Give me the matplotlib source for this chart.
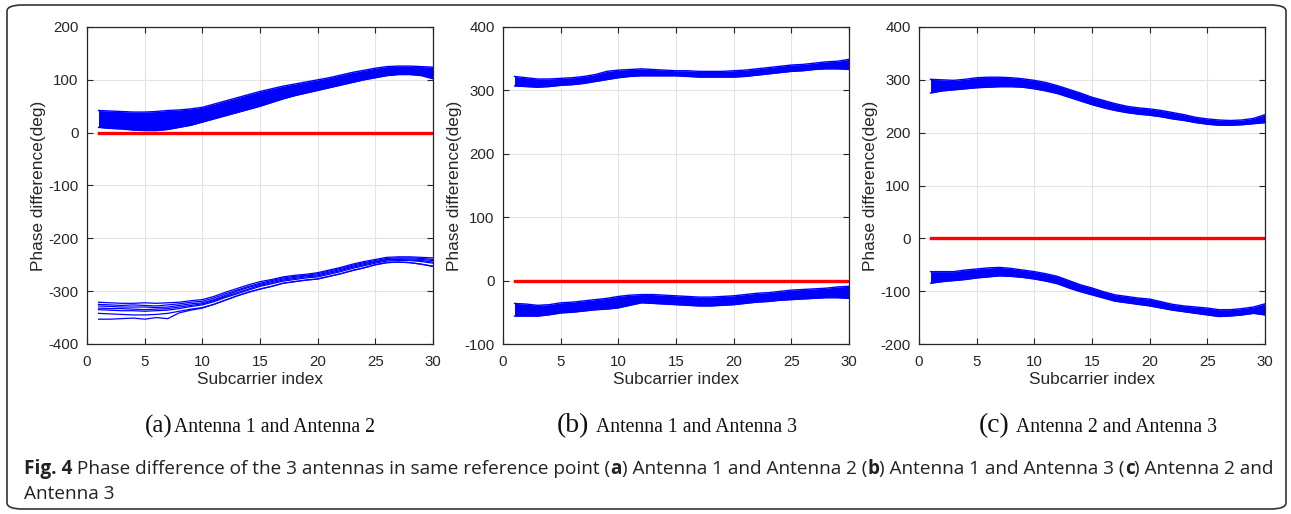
import matplotlib
matplotlib.use('Agg')
import matplotlib.pyplot as plt
from matplotlib.patches import FancyBboxPatch

# subcarrier index
sub = list(range(1, 31))

# (a) Antenna 1 and Antenna 2 - upper bundle envelope
a_up_hi = [42, 41, 40, 39, 39, 40, 42, 43, 45, 48, 54, 60, 66, 72, 78, 83, 88, 92, 96, 100,
           104, 109, 114, 118, 122, 125, 126, 126, 125, 124]
a_up_lo = [10, 8, 7, 5, 4, 4, 6, 10, 14, 20, 26, 32, 38, 44, 50, 57, 64, 70, 75, 80,
           85, 90, 95, 100, 104, 108, 110, 110, 108, 102]
# (a) lower (wrapped) bundle, a few separate traces
a_low_lines = [
    [-321, -322, -323, -323, -322, -323, -322, -321, -318, -316, -310, -302, -295, -288, -282,
     -278, -273, -270, -268, -265, -260, -255, -249, -244, -240, -236, -235, -235, -236, -237],
    [-325, -326, -327, -326, -327, -328, -326, -324, -321, -319, -313, -305, -298, -291, -285,
     -280, -275, -272, -270, -267, -262, -257, -251, -246, -242, -238, -237, -237, -238, -240],
    [-328, -329, -330, -330, -330, -331, -330, -327, -324, -322, -316, -308, -300, -293, -287,
     -282, -277, -274, -271, -269, -264, -259, -253, -248, -244, -240, -239, -239, -240, -242],
    [-332, -333, -333, -334, -335, -334, -333, -330, -327, -324, -318, -310, -303, -296, -289,
     -284, -279, -276, -273, -271, -266, -261, -255, -250, -245, -241, -240, -241, -242, -245],
    [-335, -336, -337, -337, -338, -337, -336, -333, -329, -326, -320, -312, -305, -298, -291,
     -286, -281, -278, -275, -273, -268, -263, -257, -252, -247, -243, -242, -242, -244, -247],
    [-342, -343, -344, -345, -345, -344, -342, -338, -334, -331, -325, -317, -309, -302, -296,
     -291, -285, -282, -279, -277, -272, -267, -261, -256, -250, -246, -245, -246, -249, -253],
    [-353, -353, -352, -351, -353, -350, -352, -341, -336, -332, -325, -317, -309, -302, -296,
     -291, -285, -282, -279, -277, -272, -267, -261, -256, -250, -246, -245, -246, -249, -253],
]

# (b) Antenna 1 and Antenna 3
b_up_hi = [322, 320, 318, 318, 319, 320, 322, 325, 330, 332, 333, 334, 333, 332, 331,
           331, 330, 330, 330, 331, 332, 334, 336, 338, 340, 341, 343, 345, 346, 349]
b_up_lo = [307, 306, 305, 306, 308, 309, 311, 314, 317, 320, 322, 323, 323, 323, 323,
           322, 321, 321, 321, 321, 322, 324, 326, 328, 330, 331, 333, 334, 334, 333]
b_low_hi = [-36, -37, -39, -38, -35, -34, -32, -30, -28, -25, -23, -22, -22, -23, -24,
            -25, -26, -26, -25, -24, -22, -20, -19, -17, -15, -14, -13, -12, -10, -9]
b_low_lo = [-56, -56, -56, -54, -51, -50, -48, -46, -45, -43, -39, -35, -36, -37, -38,
            -39, -40, -40, -39, -38, -36, -34, -33, -31, -30, -29, -28, -27, -27, -28]

# (c) Antenna 2 and Antenna 3
c_up_hi = [301, 300, 299, 301, 304, 305, 305, 304, 302, 299, 295, 289, 282, 275, 267,
           261, 255, 250, 247, 245, 242, 238, 234, 229, 226, 224, 223, 224, 227, 234]
c_up_lo = [275, 279, 281, 283, 285, 286, 287, 287, 286, 283, 279, 274, 267, 260, 253,
           247, 242, 238, 235, 233, 230, 226, 223, 219, 216, 214, 214, 215, 217, 219]
c_low_hi = [-63, -63, -63, -60, -58, -56, -55, -57, -60, -63, -67, -72, -80, -88, -94,
            -101, -107, -110, -113, -115, -120, -125, -128, -130, -132, -135, -135, -133, -130, -124]
c_low_lo = [-85, -82, -80, -78, -75, -73, -71, -72, -74, -77, -81, -86, -94, -101, -107,
            -113, -119, -122, -125, -128, -132, -136, -139, -142, -145, -148, -147, -145, -142, -145]

ref_line = [0] * 30

panels = [
    dict(bands=[(a_up_hi, a_up_lo)], lines=a_low_lines, ylim=(-400, 200),
         yticks=[-400, -300, -200, -100, 0, 100, 200],
         tag='(a)', tag_x=145, tag_size=18, cap='Antenna 1 and Antenna 2', cap_x=174),
    dict(bands=[(b_up_hi, b_up_lo), (b_low_hi, b_low_lo)], lines=[], ylim=(-100, 400),
         yticks=[-100, 0, 100, 200, 300, 400],
         tag='(b)', tag_x=557, tag_size=20, cap='Antenna 1 and Antenna 3', cap_x=596),
    dict(bands=[(c_up_hi, c_up_lo), (c_low_hi, c_low_lo)], lines=[], ylim=(-200, 400),
         yticks=[-200, -100, 0, 100, 200, 300, 400],
         tag='(c)', tag_x=979, tag_size=20, cap='Antenna 2 and Antenna 3', cap_x=1016),
]

W, H = 1291, 514
fig = plt.figure(figsize=(W / 100, H / 100), dpi=100)
plt.rcParams['font.family'] = ['Liberation Sans', 'DejaVu Sans']
plt.rcParams['axes.unicode_minus'] = False

# rounded frame round the whole figure
frame = FancyBboxPatch((7 / W, 5 / H), 1279 / W, 504 / H, transform=fig.transFigure,
                       boxstyle='round,pad=0,rounding_size=0.012', fill=False,
                       edgecolor='#333333', linewidth=1.2)
fig.patches.append(frame)

lefts = [87, 503, 919]
blue = '#0000ff'
for left, p in zip(lefts, panels):
    ax = fig.add_axes([left / W, 1 - 344 / H, 346 / W, 317 / H])
    for hi, lo in p['bands']:
        ax.fill_between(sub, lo, hi, color=blue, linewidth=0)
        ax.plot(sub, hi, color=blue, linewidth=1.0)
        ax.plot(sub, lo, color=blue, linewidth=1.0)
    for ln in p['lines']:
        ax.plot(sub, ln, color=blue, linewidth=0.9)
    ax.plot(sub, ref_line, color='#ff0000', linewidth=2.4)

    ax.set_xlim(0, 30)
    ax.set_ylim(*p['ylim'])
    ax.set_xticks([0, 5, 10, 15, 20, 25, 30])
    ax.set_yticks(p['yticks'])
    ax.grid(True, color='#e3e3e3', linewidth=0.8)
    ax.set_axisbelow(True)
    ax.tick_params(direction='in', top=True, right=True, labelsize=10.8,
                   colors='#262626', length=4, width=0.8)
    ax.tick_params(axis='x', pad=8)
    ax.tick_params(axis='y', pad=6)
    for s in ax.spines.values():
        s.set_color('#262626')
        s.set_linewidth(0.9)
    ax.set_xlabel('Subcarrier index', fontsize=12.4, color='#262626', labelpad=2)
    ax.set_ylabel('Phase difference(deg)', fontsize=12.4, color='#262626', labelpad=2)

    # sub caption below the panel
    fig.text(p['tag_x'] / W, 1 - 426 / H, p['tag'], fontsize=p['tag_size'], va='center',
             family='Liberation Serif', color='#111111')
    fig.text(p['cap_x'] / W, 1 - 427 / H, p['cap'], fontsize=14.2, va='center',
             family='Liberation Serif', color='#111111')

# figure caption, pieces with bold letters
fig.canvas.draw()
pieces = [('Fig. 4', 'bold'), (' Phase difference of the 3 antennas in same reference point (', 'normal'),
          ('a', 'bold'), (') Antenna 1 and Antenna 2 (', 'normal'), ('b', 'bold'),
          (') Antenna 1 and Antenna 3 (', 'normal'), ('c', 'bold'), (') Antenna 2 and', 'normal')]
x = 24
for txt, wt in pieces:
    t = fig.text(x / W, 1 - 469 / H, txt, fontsize=13.7, fontweight=wt, va='center',
                 family='Open Sans', color='#222222')
    fig.canvas.draw()
    x = t.get_window_extent().x1
fig.text(24 / W, 1 - 494 / H, 'Antenna 3', fontsize=13.7, va='center',
         family='Open Sans', color='#222222')

fig.savefig('out.png', dpi=100)
